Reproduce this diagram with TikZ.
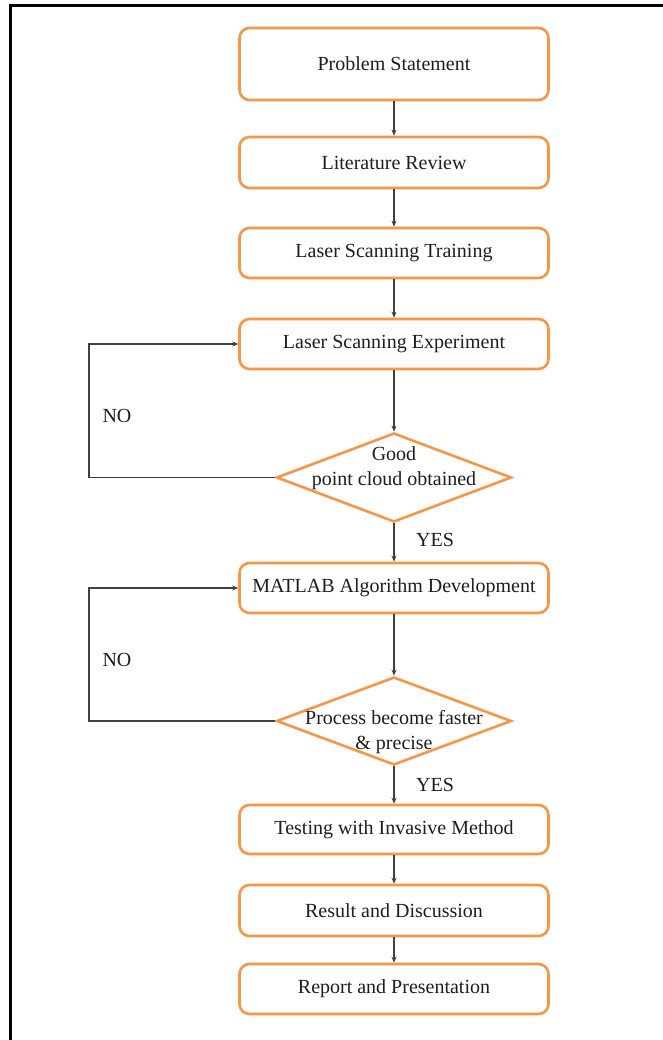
\documentclass[tikz,border=0pt]{standalone}
\usepackage{fontspec}
\setmainfont{Liberation Serif}
\usetikzlibrary{arrows.meta,shapes.geometric}
\definecolor{boxorange}{RGB}{247,150,70}
\definecolor{linegray}{RGB}{64,64,64}
\definecolor{txt}{RGB}{30,30,30}
\tikzset{
  stepbox/.style={draw=boxorange, line width=2.6pt, rounded corners=10pt,
    minimum width=309pt, inner sep=0pt, text=txt,
    font=\fontsize{20}{25}\selectfont},
  decision/.style={draw=boxorange, line width=2.6pt, diamond, inner sep=0pt,
    minimum width=235pt, minimum height=89pt},
  dtext/.style={align=center, text=txt, inner sep=0pt,
    font=\fontsize{20}{25}\selectfont},
  lbl/.style={text=txt, inner sep=0pt, font=\fontsize{20}{24}\selectfont},
  conn/.style={draw=linegray, line width=1.3pt,
    -{Stealth[length=6pt,width=5pt]}},
}
\begin{document}
\begin{tikzpicture}[x=1pt,y=-1pt]
\useasboundingbox (0,0) rectangle (662,1040);
\fill[white] (0,0) rectangle (662,1040);
% frame
\coordinate (fbl) at (10,1042);
\coordinate (ftl) at (10,6);
\coordinate (ftr) at (664,6);
\draw[line width=3pt, black] (fbl) -- (ftl) -- (ftr);

% boxes
\node[stepbox, minimum height=72pt] (ps)  at (394,64)    {Problem Statement};
\node[stepbox, minimum height=51pt] (lr)  at (394,162.5) {Literature Review};
\node[stepbox, minimum height=50pt] (lst) at (394,253)   {Laser Scanning Training};
\node[stepbox, minimum height=50pt] (lse) at (394,344)   {Laser Scanning Experiment};
\node[decision] (d1) at (394,477.5) {};
\node[dtext] (d1t) at (394,468) {Good\\point cloud obtained};
\node[stepbox, minimum height=50pt] (mat) at (394,588)   {MATLAB Algorithm Development};
\node[decision, minimum height=88pt] (d2) at (394,721) {};
\node[dtext] (d2t) at (394,732) {Process become faster\\\& precise};
\node[stepbox, minimum height=49pt] (tst) at (394,829.5) {Testing with Invasive Method};
\node[stepbox, minimum height=51pt] (res) at (394,910.5) {Result and Discussion};
\node[stepbox, minimum height=50pt] (rep) at (394,989)   {Report and Presentation};

% labels
\node[lbl] (no1)  at (117,416) {NO};
\node[lbl] (no2)  at (117,660) {NO};
\node[lbl] (yes1) at (435,540) {YES};
\node[lbl] (yes2) at (435,785) {YES};

% connectors
\draw[conn] (ps.south) -- (lr.north);
\draw[conn] (lr.south) -- (lst.north);
\draw[conn] (lst.south) -- (lse.north);
\draw[conn] (lse.south) -- (d1.north);
\draw[conn] (d1.south) -- (mat.north);
\draw[conn] (mat.south) -- (d2.north);
\draw[conn] (d2.south) -- (tst.north);
\draw[conn] (tst.south) -- (res.north);
\draw[conn] (res.south) -- (rep.north);

\coordinate (loopx) at (89,0);
\draw[conn] (d1.west) -- (d1.west -| loopx) |- (lse.west);
\draw[conn] (d2.west) -- (d2.west -| loopx) |- (mat.west);
\end{tikzpicture}
\end{document}
